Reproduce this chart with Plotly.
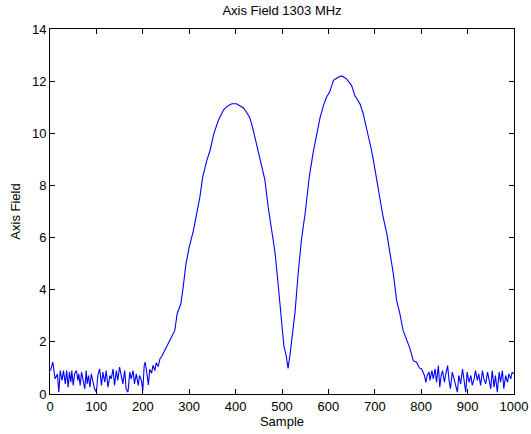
import plotly.graph_objects as go

# Left noisy baseline (sample, value)
base_left_x = [1, 6, 11, 16, 19, 22, 26, 29, 33, 36, 39, 42, 45, 47, 50, 53, 57, 60, 62, 65,
               68, 71, 75, 78, 80, 83, 86, 89, 93, 96, 100, 103, 107, 111, 114, 118, 121, 125,
               129, 132, 136, 139, 143, 146, 150, 154, 157, 161, 164, 168, 172, 175, 179, 182,
               186, 190, 193, 197, 200, 203, 205, 209, 212, 215, 219, 222, 226, 229, 233, 237]
base_left_y = [0.9, 1.22, 0.58, 0.77, 0.07, 0.9, 0.52, 0.9, 0.39, 0.9, 0.26, 0.84, 0.45, 0.9,
               0.33, 0.77, 0.9, 0.52, 0.77, 0.33, 0.84, 0.58, 0.2, 0.9, 0.39, 0.71, 0.26, 0.77,
               0.45, 0.2, 0.07, 0.71, 0.96, 0.33, 0.84, 0.45, 0.9, 0.26, 0.71, 0.58, 0.96, 0.33,
               0.9, 0.52, 1.03, 0.71, 0.39, 0.9, 0.2, 0.07, 0.84, 0.58, 0.9, 0.39, 0.77, 0.33,
               0.71, 0.52, 0.13, 1.09, 1.22, 0.77, 0.35, 0.95, 0.8, 1.1, 0.9, 1.2, 1.05, 1.35]

# Main double-peaked field profile
peak_x = [241, 251, 262, 269, 274, 282, 287, 293, 300, 309, 316, 323, 329, 338, 345, 353, 363,
          374, 383, 392, 402, 410, 417, 424, 431, 437, 442, 449, 456, 463, 470, 478, 485, 492,
          499, 504, 509, 513, 517, 521, 528, 535, 542, 550, 559, 567, 575, 582, 590, 596, 603,
          611, 621, 629, 639, 650, 657, 668, 675, 682, 688, 693, 697, 704, 711, 718, 726, 733,
          740, 747, 754, 761, 769, 776, 783]
peak_y = [1.45, 1.8, 2.18, 2.44, 3.08, 3.46, 4.1, 4.99, 5.63, 6.27, 6.91, 7.55, 8.32, 8.96,
          9.34, 9.98, 10.5, 10.9, 11.05, 11.13, 11.13, 11.05, 10.97, 10.8, 10.58, 10.2, 9.82,
          9.3, 8.8, 8.22, 7.2, 6.31, 5.42, 4.14, 2.87, 1.85, 1.47, 0.98, 1.47, 2.1, 3.12, 4.65,
          5.93, 6.95, 8.35, 9.25, 10.0, 10.6, 11.1, 11.38, 11.6, 12.03, 12.15, 12.2, 12.09,
          11.83, 11.45, 11.13, 10.75, 10.23, 9.72, 9.34, 8.96, 8.2, 7.55, 6.78, 6.14, 5.38,
          4.61, 3.59, 3.08, 2.44, 2.05, 1.73, 1.28]

# Right noisy baseline
base_right_x = [790, 796, 801, 807, 810, 813, 817, 819, 823, 826, 830, 833, 837, 840, 843, 846,
                850, 853, 857, 860, 863, 867, 871, 874, 878, 881, 885, 889, 892, 896, 899, 903,
                907, 910, 914, 917, 921, 924, 928, 932, 935, 939, 943, 946, 950, 953, 957, 960,
                964, 968, 971, 975, 978, 982, 986, 989, 993, 996, 1000]
base_right_y = [1.22, 1.0, 0.96, 0.71, 0.45, 0.71, 0.84, 0.52, 0.9, 0.58, 0.96, 0.45, 1.09,
                0.26, 0.71, 0.9, 0.45, 0.77, 1.09, 0.52, 0.2, 0.84, 0.58, 0.39, 0.07, 0.71,
                0.39, 0.96, 0.58, 0.07, 0.84, 0.45, 0.71, 0.33, 0.58, 0.9, 0.52, 0.77, 0.33,
                0.9, 0.58, 0.39, 0.84, 0.52, 0.2, 0.9, 0.26, 0.71, 0.07, 0.84, 0.45, 0.9, 0.2,
                0.71, 0.45, 0.77, 0.58, 0.84, 0.77]

xs = base_left_x + peak_x + base_right_x
ys = base_left_y + peak_y + base_right_y

x_ticks = [0, 100, 200, 300, 400, 500, 600, 700, 800, 900, 1000]
y_ticks = [0, 2, 4, 6, 8, 10, 12, 14]

FONT = "Liberation Sans, Arial, Helvetica, sans-serif"

fig = go.Figure(go.Scatter(x=xs, y=ys, mode="lines",
                           line=dict(color="#0000ff", width=1.1), showlegend=False))

axis_common = dict(showgrid=False, zeroline=False, showline=True, linecolor="black",
                   linewidth=1, mirror="ticks", ticks="inside", ticklen=5,
                   tickcolor="black", automargin=False,
                   tickfont=dict(size=13, color="black", family=FONT))

fig.update_xaxes(range=[0, 1000], tickvals=x_ticks,
                 title=dict(text="Sample", font=dict(size=13, color="black", family=FONT),
                            standoff=0), **axis_common)
fig.update_yaxes(range=[0, 14], tickvals=y_ticks,
                 title=dict(text="Axis Field", font=dict(size=13, color="black", family=FONT),
                            standoff=8), **axis_common)

fig.update_layout(
    width=531, height=434,
    margin=dict(l=50, r=17, t=29, b=40, autoexpand=False),
    paper_bgcolor="white", plot_bgcolor="white",
    title=dict(text="Axis Field 1303 MHz", x=0.5, xanchor="center", xref="paper",
               y=1, yref="container", yanchor="top", pad=dict(t=6),
               font=dict(size=13, color="black", family=FONT)),
)

fig.write_html("out.html", config={"displayModeBar": False},
               post_script="document.body.style.margin='0px';document.body.style.overflow='hidden';")
